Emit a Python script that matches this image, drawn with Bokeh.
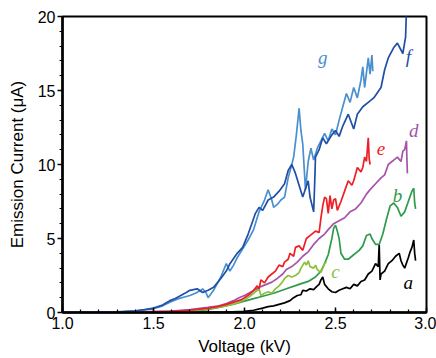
from bokeh.plotting import figure
from bokeh.models import Range1d, FixedTicker, NumeralTickFormatter
from bokeh.core.properties import value
from bokeh.embed import file_html
from bokeh.resources import INLINE

# ---- data ----
x_ticks = [1.0, 1.5, 2.0, 2.5, 3.0]
x_minor = [round(1.0 + 0.1 * i, 1) for i in range(21)]
y_ticks = [0, 5, 10, 15, 20]
y_minor = list(range(0, 21))

a_v = [1.0, 1.7, 1.9, 2.0, 2.05, 2.10, 2.13, 2.16, 2.19, 2.22, 2.25, 2.27, 2.29, 2.31, 2.32, 2.34, 2.36, 2.38,
       2.40, 2.41, 2.42, 2.43, 2.44, 2.46, 2.48, 2.50, 2.52, 2.54, 2.56, 2.58, 2.60, 2.62, 2.64, 2.66, 2.68, 2.70,
       2.72, 2.735, 2.74, 2.745, 2.75, 2.77, 2.79, 2.81, 2.83, 2.85, 2.86, 2.87, 2.88, 2.90, 2.91, 2.92, 2.93,
       2.935, 2.94]
a_i = [0, 0, 0.02, 0.08, 0.15, 0.3, 0.4, 0.45, 0.55, 0.65, 0.8, 1.0, 1.15, 1.2, 1.5, 1.45, 1.6, 1.55,
       1.8, 1.9, 2.2, 2.4, 1.9, 1.6, 1.4, 1.35, 1.5, 1.6, 1.7, 1.6, 1.9, 1.8, 2.1, 2.2, 2.6, 2.8,
       3.3, 3.1, 4.6, 2.2, 2.6, 2.8, 3.3, 3.5, 3.8, 4.0, 3.5, 3.2, 3.0, 3.7, 4.1, 4.4, 4.9,
       4.0, 3.5]

b_v = [1.0, 1.5, 1.7, 1.8, 1.86, 1.95, 2.04, 2.10, 2.16, 2.23, 2.30, 2.35, 2.39, 2.42, 2.44, 2.46, 2.48, 2.49,
       2.50, 2.51, 2.52, 2.53, 2.55, 2.57, 2.60, 2.63, 2.65, 2.67, 2.69, 2.70, 2.72, 2.74, 2.76, 2.78, 2.80,
       2.82, 2.84, 2.86, 2.88, 2.90, 2.92, 2.93, 2.935, 2.94]
b_i = [0, 0.02, 0.1, 0.2, 0.35, 0.6, 0.9, 1.1, 1.3, 1.6, 1.9, 2.1, 2.4, 2.8, 3.3, 3.9, 5.0, 5.7,
       5.9, 5.5, 5.0, 4.0, 3.6, 3.6, 3.9, 4.2, 4.5, 5.2, 5.3, 5.0, 4.6, 4.6, 5.3, 6.3, 7.2,
       7.4, 7.1, 6.5, 6.8, 7.5, 8.2, 8.4, 7.4, 7.0]

c_v = [1.0, 1.5, 1.7, 1.8, 1.9, 1.95, 2.0, 2.03, 2.06, 2.08, 2.09, 2.11, 2.13, 2.15, 2.17, 2.19, 2.21, 2.22,
       2.24, 2.26, 2.28, 2.30, 2.31, 2.33, 2.34, 2.35, 2.36, 2.38, 2.39, 2.40, 2.42, 2.43, 2.44, 2.45]
c_i = [0, 0.02, 0.1, 0.25, 0.45, 0.6, 0.85, 1.1, 1.4, 1.6, 1.15, 1.3, 1.4, 1.3, 1.6, 1.8, 2.1, 2.3,
       2.5, 2.4, 2.5, 2.7, 3.0, 3.4, 3.2, 3.5, 3.1, 3.0, 3.2, 2.9, 2.7, 3.0, 3.3, 3.4]

d_v = [1.0, 1.4, 1.6, 1.7, 1.8, 1.86, 1.9, 1.94, 1.97, 2.0, 2.03, 2.06, 2.09, 2.12, 2.15, 2.18, 2.21, 2.23,
       2.26, 2.29, 2.32, 2.35, 2.38, 2.41, 2.44, 2.46, 2.49, 2.52, 2.55, 2.58, 2.61, 2.64, 2.67, 2.69, 2.72,
       2.75, 2.77, 2.79, 2.82, 2.84, 2.86, 2.87, 2.88, 2.89, 2.892, 2.895]
d_i = [0, 0.02, 0.1, 0.2, 0.35, 0.45, 0.6, 0.8, 1.0, 1.15, 1.35, 1.55, 1.75, 1.9, 2.05, 2.3, 2.6, 2.9,
       3.1, 3.4, 3.8, 4.1, 4.6, 5.0, 5.3, 5.6, 6.0, 6.2, 6.4, 6.8, 7.0, 7.4, 8.0, 8.3, 8.7,
       9.1, 9.3, 10.0, 10.3, 10.5, 10.2, 10.9, 11.0, 11.6, 10.5, 9.4]

e_v = [1.0, 1.4, 1.6, 1.7, 1.8, 1.85, 1.9, 1.94, 1.98, 2.00, 2.03, 2.05, 2.07, 2.08, 2.09, 2.11, 2.13, 2.15,
       2.17, 2.19, 2.21, 2.22, 2.24, 2.25, 2.27, 2.28, 2.30, 2.32, 2.34, 2.36, 2.39, 2.41, 2.42, 2.43, 2.44,
       2.45, 2.46, 2.47, 2.48, 2.49, 2.50, 2.51, 2.53, 2.55, 2.57, 2.59, 2.60, 2.62, 2.64, 2.65, 2.66, 2.67,
       2.68, 2.685, 2.69]
e_i = [0, 0.02, 0.08, 0.15, 0.3, 0.4, 0.55, 0.7, 0.85, 1.0, 1.25, 1.5, 1.8, 1.6, 2.2, 2.0, 2.4, 2.6,
       2.8, 3.2, 3.1, 3.4, 3.6, 4.0, 3.8, 4.4, 4.5, 4.2, 5.0, 5.2, 5.5, 5.4, 6.4, 7.2, 7.8,
       7.7, 6.7, 7.9, 7.0, 7.6, 7.7, 6.9, 7.5, 8.2, 8.9, 8.6, 8.9, 9.8, 9.5, 9.8, 10.5, 10.2,
       11.8, 10.4, 10.0]

f_v = [1.0, 1.2, 1.3, 1.4, 1.45, 1.5, 1.55, 1.59, 1.62, 1.65, 1.68, 1.70, 1.72, 1.74, 1.77, 1.80, 1.83, 1.87,
       1.90, 1.92, 1.96, 1.99, 2.02, 2.04, 2.06, 2.08, 2.10, 2.13, 2.16, 2.19, 2.22, 2.24, 2.26, 2.28, 2.31,
       2.32, 2.35, 2.36, 2.38, 2.385, 2.39, 2.41, 2.43, 2.45, 2.48, 2.50, 2.52, 2.54, 2.57, 2.60, 2.62, 2.65,
       2.68, 2.71, 2.75, 2.77, 2.79, 2.82, 2.84, 2.87, 2.885, 2.89]
f_i = [0, 0.02, 0.05, 0.12, 0.2, 0.3, 0.5, 0.8, 0.95, 1.15, 1.35, 1.5, 1.55, 1.6, 1.35, 1.5, 1.7, 2.3,
       2.8, 3.3, 4.0, 4.4, 5.3, 6.0, 6.7, 7.1, 6.9, 7.6, 7.8, 8.2, 8.7, 9.6, 10.0, 9.4, 8.2,
       7.8, 8.9, 7.8, 6.8, 8.5, 10.5, 11.0, 11.8, 11.4, 12.0, 12.3, 11.9, 12.6, 13.4, 12.4, 13.4, 13.9,
       14.2, 14.5, 15.2, 16.4, 17.2, 17.9, 18.2, 17.5, 18.6, 20.5]

g_v = [1.0, 1.3, 1.4, 1.5, 1.55, 1.59, 1.63, 1.67, 1.70, 1.73, 1.76, 1.77, 1.79, 1.80, 1.83, 1.87, 1.90, 1.92,
       1.94, 1.96, 1.99, 2.02, 2.05, 2.08, 2.11, 2.13, 2.15, 2.16, 2.18, 2.20, 2.22, 2.24, 2.26, 2.27, 2.285,
       2.30, 2.31, 2.32, 2.335, 2.35, 2.365, 2.38, 2.40, 2.42, 2.44, 2.46, 2.48, 2.50, 2.52, 2.54, 2.56, 2.58,
       2.60, 2.62, 2.64, 2.65, 2.66, 2.68, 2.69, 2.70, 2.705]
g_i = [0, 0.03, 0.1, 0.25, 0.45, 0.7, 0.9, 1.05, 1.15, 1.3, 1.5, 1.6, 1.3, 1.0, 1.5, 2.4, 3.3, 2.8,
       3.2, 3.7, 4.3, 4.9, 5.6, 6.8, 7.6, 8.3, 7.6, 7.1, 7.3, 7.6, 7.8, 9.1, 10.0, 10.5, 12.0,
       13.8, 12.3, 11.4, 8.3, 10.2, 11.1, 10.3, 11.1, 11.6, 12.1, 11.6, 12.4, 12.0, 13.0, 13.9, 14.8, 14.2,
       15.2, 14.5, 15.7, 16.6, 15.2, 17.2, 16.1, 17.4, 16.3]

names = ["a", "b", "c", "d", "e", "f", "g"]
volts = [a_v, b_v, c_v, d_v, e_v, f_v, g_v]
currents = [a_i, b_i, c_i, d_i, e_i, f_i, g_i]
colors = ["#000000", "#2f9a4c", "#8cbf3a", "#a653aa", "#ee1f25", "#1f4fa6", "#4a8fce"]
label_x = [2.90, 2.84, 2.50, 2.93, 2.75, 2.90, 2.43]
label_y = [2.0, 7.9, 2.8, 12.3, 11.1, 17.3, 17.2]

# ---- figure ----
p = figure(width=436, height=358, output_backend="svg", toolbar_location=None,
           x_range=Range1d(1.0, 3.0), y_range=Range1d(0, 20),
           min_border_left=62, min_border_right=10, min_border_top=16, min_border_bottom=46)
p.background_fill_color = "white"
p.border_fill_color = "white"
p.outline_line_color = "black"
p.outline_line_width = 2
p.xgrid.grid_line_color = None
p.ygrid.grid_line_color = None

order = [0, 1, 2, 3, 4, 6, 5]
for k in order:
    p.line(volts[k], currents[k], line_color=colors[k], line_width=1.7)

for k in range(len(names)):
    p.text(x=[label_x[k]], y=[label_y[k]], text=[names[k]], text_color=colors[k],
           text_font=value("Liberation Serif"), text_font_style="italic",
           text_font_size="19px", text_align="center", text_baseline="middle")

xa = p.xaxis[0]
xa.ticker = FixedTicker(ticks=x_ticks, minor_ticks=x_minor)
xa.formatter = NumeralTickFormatter(format="0.0")
xa.axis_label = "Voltage (kV)"
xa.major_tick_in = 5
xa.major_tick_out = 0
xa.minor_tick_in = 3
xa.minor_tick_out = 0
xa.major_label_standoff = 4
xa.axis_label_standoff = 5

ya = p.yaxis[0]
ya.ticker = FixedTicker(ticks=y_ticks, minor_ticks=y_minor)
ya.formatter = NumeralTickFormatter(format="0")
ya.axis_label = "Emission Current (μA)"
ya.major_tick_in = 0
ya.major_tick_out = 5
ya.minor_tick_in = 0
ya.minor_tick_out = 3
ya.major_label_standoff = 2
ya.axis_label_standoff = 8

for ax in (xa, ya):
    ax.axis_line_width = 2.5
    ax.axis_line_color = "black"
    ax.major_tick_line_color = "black"
    ax.minor_tick_line_color = "black"
    ax.major_tick_line_width = 1.5
    ax.minor_tick_line_width = 1.2
    ax.major_label_text_font = "Liberation Sans"
    ax.major_label_text_font_size = "16px"
    ax.major_label_text_color = "black"
    ax.axis_label_text_font = "Liberation Sans"
    ax.axis_label_text_font_size = "17px"
    ax.axis_label_text_font_style = "normal"
    ax.axis_label_text_color = "black"

open("out.html", "w").write(file_html(p, INLINE))
